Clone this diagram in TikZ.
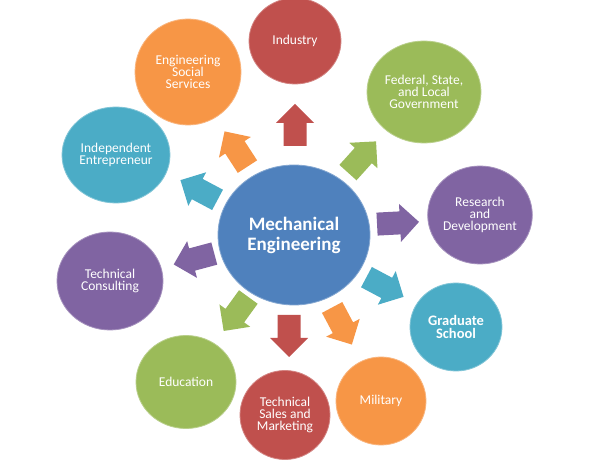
\documentclass[tikz,border=0pt]{standalone}
\usepackage{fontspec}
\setmainfont{Carlito}
\definecolor{cblue}{HTML}{4F81BD}
\definecolor{cred}{HTML}{C0504D}
\definecolor{cgreen}{HTML}{9BBB59}
\definecolor{cpurple}{HTML}{8064A2}
\definecolor{cteal}{HTML}{4BACC6}
\definecolor{corange}{HTML}{F79646}
\begin{document}
\begin{tikzpicture}[x=1pt,y=1pt,
  bubble/.style={ellipse, fill=#1, draw=#1!70!white, line width=0.8pt, text=white,
     align=center, inner sep=0pt, font=\fontsize{13.5}{12}\selectfont},
  blockarrow/.pic={\fill[pic actions] (-21,-11.5) -- (2,-11.5) -- (2,-19) -- (21,0) -- (2,19) -- (2,11.5) -- (-21,11.5) -- cycle;}
]
\usetikzlibrary{shapes.geometric}
\useasboundingbox (0,0) rectangle (589,466);
\fill[white] (0,0) rectangle (589,466);
% centre
\node[ellipse, fill=cblue, draw=cblue!70!white, line width=0.8pt, minimum width=152pt, minimum height=140pt, text=white, align=center,
      font=\bfseries\fontsize{19}{20}\selectfont] (me) at (294,231) {Mechanical\\Engineering};
% outer circles
\node[bubble=cred, minimum width=92pt, minimum height=86pt] (ind) at (295,425) {Industry};
\node[bubble=corange, minimum width=106pt, minimum height=106pt] (ess) at (188,394) {Engineering\\Social\\Services};
\node[bubble=cgreen, minimum width=114pt, minimum height=102pt] (fed) at (424,374) {Federal, State,\\and Local\\Government};
\node[bubble=cpurple, minimum width=104pt, minimum height=98pt] (rd) at (480,251) {Research\\and\\Development};
\node[bubble=cteal, minimum width=92pt, minimum height=88pt, font=\bfseries\fontsize{14.5}{13.5}\selectfont] (gs) at (456,139) {Graduate\\School};
\node[bubble=corange, minimum width=90pt, minimum height=88pt] (mil) at (381,65) {Military};
\node[bubble=cred, minimum width=90pt, minimum height=89pt] (tsm) at (285,51) {Technical\\Sales and\\Marketing};
\node[bubble=cgreen, minimum width=100pt, minimum height=93pt] (edu) at (186,84) {Education};
\node[bubble=cpurple, minimum width=106pt, minimum height=98pt] (tc) at (110,185) {Technical\\Consulting};
\node[bubble=cteal, minimum width=108pt, minimum height=96pt] (ie) at (116,311) {Independent\\Entrepreneur};
% block arrows
\pic[fill=cred, rotate=90] at (295,341) {blockarrow};
\pic[fill=corange, rotate=123] at (236,317) {blockarrow};
\pic[fill=cgreen, rotate=48] at (362,309) {blockarrow};
\pic[fill=cpurple, rotate=3] at (398,243) {blockarrow};
\pic[fill=cteal, rotate=-28] at (385,179) {blockarrow};
\pic[fill=corange, rotate=-62] at (342,140) {blockarrow};
\pic[fill=cred, rotate=-90] at (289,130) {blockarrow};
\pic[fill=cgreen, rotate=-126] at (236,152) {blockarrow};
\pic[fill=cpurple, rotate=195] at (194,207) {blockarrow};
\pic[fill=cteal, rotate=152] at (199,276) {blockarrow};
\end{tikzpicture}
\end{document}
